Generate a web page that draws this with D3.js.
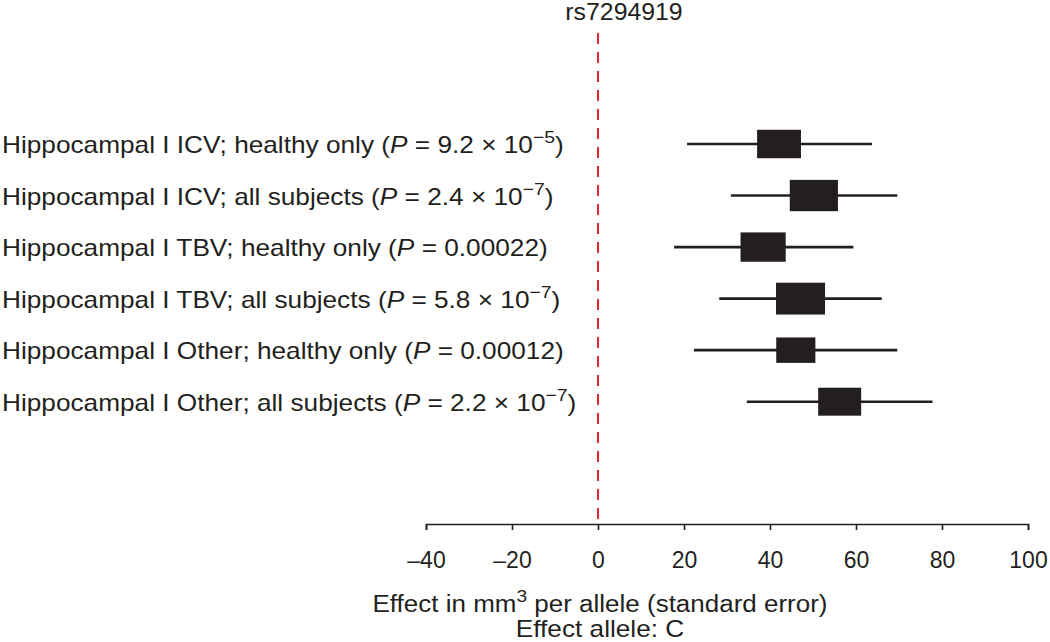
<!DOCTYPE html>
<html>
<head>
<meta charset="utf-8">
<script src="https://cdn.jsdelivr.net/npm/d3@7"></script>
<style>
  html, body { margin: 0; padding: 0; background: #fff; }
  svg { display: block; font-family: "Liberation Sans", Arial, Helvetica, sans-serif; }
</style>
</head>
<body>
<svg id="chart" width="1050" height="642"></svg>
<script>
// ---- data ----
const title = "rs7294919";
const labels = [
  "Hippocampal I ICV; healthy only",
  "Hippocampal I ICV; all subjects",
  "Hippocampal I TBV; healthy only",
  "Hippocampal I TBV; all subjects",
  "Hippocampal I Other; healthy only",
  "Hippocampal I Other; all subjects"
];
const pMantissa = ["9.2", "2.4", "0.00022", "5.8", "0.00012", "2.2"];
const pExponent = ["\u22125", "\u22127", null, "\u22127", null, "\u22127"];
const effects = [42.1, 50.2, 38.4, 47.1, 46.0, 56.2];
const ciLow   = [20.7, 30.9, 17.7, 28.2, 22.3, 34.6];
const ciHigh  = [63.7, 69.6, 59.4, 66.0, 69.6, 77.8];
const weights = [10.2, 11.2, 10.5, 11.4, 9.1, 10.0]; // relative box size (effect units)
const xTicks = [-40, -20, 0, 20, 40, 60, 80, 100];
const xDomain = [-40, 100];
const refValue = 0;
const xTitleMain = "Effect in mm";
const xTitleSup = "3";
const xTitleRest = " per allele (standard error)";
const xTitle2 = "Effect allele: C";

// ---- drawing ----
const svg = d3.select("#chart");
const ink = "#231f20";
const fs = 23;

const x = d3.scaleLinear().domain(xDomain).range([426, 1028]);
const y = d3.scalePoint().domain(d3.range(labels.length)).range([144, 401.7]);
const axisY = 524;

function stretchedText(x0, y0, sx, anchor) {
  return svg.append("text")
    .attr("transform", `translate(${x0},${y0}) scale(${sx},1)`)
    .attr("text-anchor", anchor)
    .attr("font-size", fs).attr("fill", ink);
}

// reference dashed line
svg.append("line")
  .attr("x1", x(refValue)).attr("x2", x(refValue))
  .attr("y1", 33).attr("y2", axisY)
  .attr("stroke", "#e0262e").attr("stroke-width", 2)
  .attr("stroke-dasharray", "11,8");

// title
stretchedText(624, 20, 1.08, "middle").text(title);

// axis
const axis = d3.axisBottom(x)
  .tickValues(xTicks)
  .tickSize(6)
  .tickPadding(22)
  .tickFormat(d => d < 0 ? "\u2013" + Math.abs(d) : String(d));
const gAxis = svg.append("g").attr("transform", `translate(0,${axisY})`).call(axis);
gAxis.select(".domain").attr("stroke", ink).attr("stroke-width", 1.6);
gAxis.selectAll(".tick line").attr("stroke", ink).attr("stroke-width", 1.6);
gAxis.selectAll(".tick text").attr("font-size", fs).attr("fill", ink)
  .attr("font-family", "Liberation Sans, Arial, sans-serif");

// axis titles
const t1 = stretchedText(600, 612, 1.13, "middle");
t1.append("tspan").text(xTitleMain);
t1.append("tspan").attr("dy", -10).attr("font-size", 17).text(xTitleSup);
t1.append("tspan").attr("dy", 10).text(xTitleRest);
stretchedText(600, 637, 1.14, "middle").text(xTitle2);

// row labels
labels.forEach((lab, i) => {
  const t = stretchedText(2, y(i) + 9, 1.14, "start");
  t.append("tspan").text(lab + " (");
  t.append("tspan").attr("font-style", "italic").text("P");
  if (pExponent[i]) {
    t.append("tspan").text(" = " + pMantissa[i] + " \u00d7 10");
    t.append("tspan").attr("dy", -10).attr("font-size", 17).text(pExponent[i]);
    t.append("tspan").attr("dy", 10).text(")");
  } else {
    t.append("tspan").text(" = " + pMantissa[i] + ")");
  }
});

// whiskers
svg.append("g").selectAll("line")
  .data(d3.range(labels.length))
  .join("line")
  .attr("x1", i => x(ciLow[i])).attr("x2", i => x(ciHigh[i]))
  .attr("y1", i => y(i)).attr("y2", i => y(i))
  .attr("stroke", ink).attr("stroke-width", 2.6);

// boxes
const boxW = i => x(xDomain[0] + weights[i]) - x(xDomain[0]);
svg.append("g").selectAll("rect")
  .data(d3.range(labels.length))
  .join("rect")
  .attr("x", i => x(effects[i]) - boxW(i) / 2)
  .attr("width", boxW)
  .attr("y", i => y(i) - boxW(i) * 0.65 / 2)
  .attr("height", i => boxW(i) * 0.65)
  .attr("fill", ink);
</script>
</body>
</html>
